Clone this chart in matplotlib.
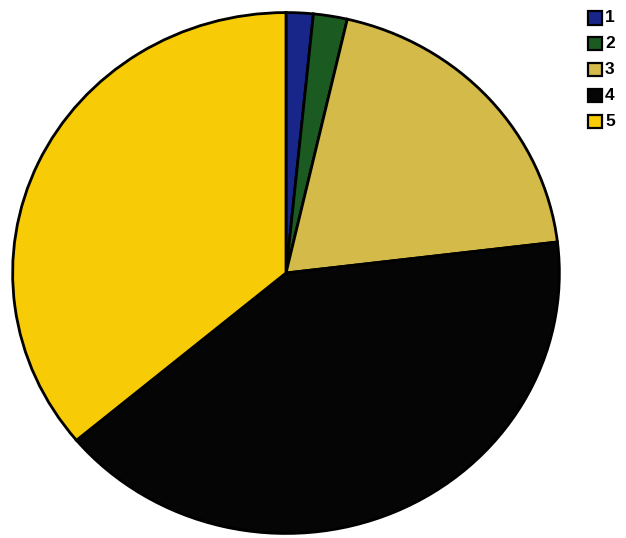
import matplotlib
matplotlib.use("Agg")
import matplotlib.pyplot as plt
from matplotlib.patches import Rectangle

categories = ["1", "2", "3", "4", "5"]
values = [1.6, 2.0, 19.5, 40.8, 36.1]
colors = ["#18268a", "#1b5a20", "#d4ba48", "#050505", "#f7cb05"]

W, H = 626, 538
fig = plt.figure(figsize=(W / 100, H / 100), dpi=100)
fig.patch.set_facecolor("white")

cx, cy, rx, ry = 286, 273, 275, 262
ax = fig.add_axes([(cx - rx) / W, (H - cy - ry) / H, 2 * rx / W, 2 * ry / H])
ax.pie(values, colors=colors, startangle=90, counterclock=False,
       wedgeprops=dict(edgecolor="black", linewidth=2.0))
ax.set_aspect("auto")
ax.set_xlim(-1.006, 1.006)
ax.set_ylim(-1.006, 1.006)
ax.axis("off")

# legend
y0, dy = 18, 25.8
for i, (lab, col) in enumerate(zip(categories, colors)):
    yc = y0 + i * dy
    r = Rectangle((588 / W, (H - yc - 6.5) / H), 14 / W, 13 / H,
                  transform=fig.transFigure, facecolor=col,
                  edgecolor="black", linewidth=1.6)
    fig.add_artist(r)
    fig.text(605 / W, (H - yc) / H, lab, fontsize=12.5, fontweight="bold",
             family="Liberation Sans", va="center", ha="left")

fig.savefig("out.png", dpi=100, facecolor="white")
